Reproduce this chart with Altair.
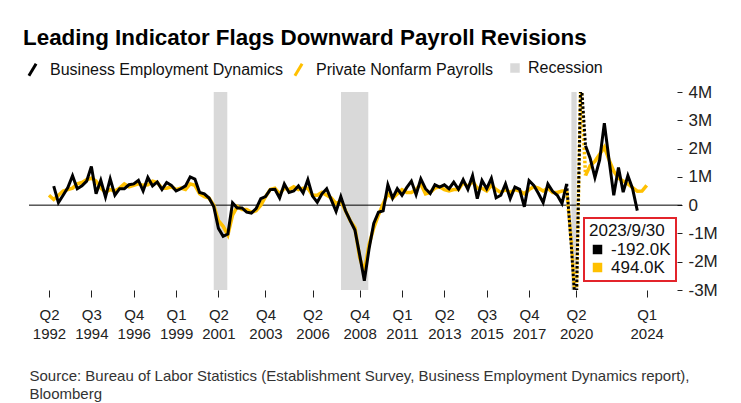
import altair as alt
import pandas as pd

FONT = "Liberation Sans"
TITLE = "Leading Indicator Flags Downward Payroll Revisions"
SOURCE = ["Source: Bureau of Labor Statistics (Establishment Survey, Business Employment Dynamics report),",
          "Bloomberg"]

BED_NAME = "Business Employment Dynamics"
PNP_NAME = "Private Nonfarm Payrolls"
REC_NAME = "Recession"
BED_COLOR = "#000000"
PNP_COLOR = "#ffc000"
REC_COLOR = "#d9d9d9"
BOX_COLOR = "#e3242b"

# quarterly net change, millions
BED_START = (1992, 3)
bed = [
    0.67, 0.09, 0.35, 0.62, 1.04, 0.58, 0.68, 0.85, 1.37, 0.40,
    0.88, 0.29, 0.93, 0.35, 0.58, 0.58, 0.72, 0.75, 0.88, 0.50,
    0.98, 0.68, 0.82, 0.55, 0.80, 0.70, 0.50, 0.58, 0.68, 1.00,
    0.92, 0.45, 0.40, 0.25, -0.05, -0.82, -1.10, -1.02, 0.08, -0.10,
    -0.10, -0.25, -0.28, -0.12, 0.23, 0.30, 0.55, 0.56, 0.25, 0.75,
    0.45, 0.50, 0.68, 0.43, 0.90, 0.32, 0.10, 0.40, 0.58, 0.18,
    -0.22, 0.30, -0.20, -0.55, -0.88, -1.75, -2.67, -1.55, -0.65, -0.25,
    -0.20, 0.72, 0.25, 0.58, 0.35, 0.62, 0.85, 0.37, 0.93, 0.58,
    0.41, 0.72, 0.64, 0.72, 0.58, 0.81, 0.56, 0.90, 0.56, 1.04,
    0.23, 0.87, 0.58, 0.95, 0.26, 0.35, 0.75, 0.23, 0.64, 0.56,
    -0.06, 0.87, 0.70, 0.41, 0.09, 0.75, 0.49, 0.35, 0.06, 0.75,
    -1.50, -4.00, 4.60, 2.10, 1.65, 0.98, 1.60, 2.90, 1.60, 0.35,
    1.33, 0.46, 1.04, 0.58, -0.192,
]
PNP_START = (1992, 2)
pnp = [
    0.35, 0.20, 0.35, 0.50, 0.55, 0.60, 0.75, 0.80, 0.90, 0.95,
    0.85, 0.60, 0.45, 0.55, 0.50, 0.60, 0.75, 0.65, 0.70, 0.75,
    0.70, 0.72, 0.85, 0.80, 0.60, 0.60, 0.65, 0.55, 0.60, 0.55,
    0.75, 0.70, 0.40, 0.30, 0.25, 0.00, -0.55, -0.75, -1.05, -0.35,
    -0.05, -0.15, -0.15, -0.25, -0.20, 0.00, 0.30, 0.55, 0.60, 0.40,
    0.60, 0.55, 0.65, 0.55, 0.60, 0.60, 0.35, 0.35, 0.45, 0.35,
    0.25, 0.05, 0.15, -0.20, -0.55, -0.80, -1.85, -2.35, -1.40, -0.80,
    -0.35, 0.05, 0.40, 0.25, 0.40, 0.55, 0.45, 0.45, 0.55, 0.75,
    0.40, 0.45, 0.60, 0.65, 0.55, 0.50, 0.55, 0.55, 0.80, 0.65,
    0.85, 0.60, 0.60, 0.50, 0.70, 0.55, 0.45, 0.55, 0.45, 0.55,
    0.50, 0.40, 0.55, 0.65, 0.60, 0.50, 0.60, 0.45, 0.45, 0.50,
    0.50, -1.30, -3.90, 4.50, 1.05, 1.40, 1.55, 1.80, 2.05, 1.60,
    1.20, 0.95, 0.85, 0.75, 0.62, 0.494, 0.50, 0.70,
]

# recessions (fractional years)
rec_start = [2001.0, 2007.76, 2020.0]
rec_end = [2001.72, 2009.21, 2020.28]

# off-scale period drawn dotted (first and last quarter included)
DOT_FROM = (2019, 4)
DOT_TO = (2020, 4)

tick_labels = ["Q2 1992", "Q3 1994", "Q4 1996", "Q1 1999", "Q2 2001", "Q4 2003", "Q2 2006",
               "Q4 2008", "Q1 2011", "Q2 2013", "Q3 2015", "Q4 2017", "Q2 2020", "Q1 2024"]
y_ticks = [-3, -2, -1, 0, 1, 2, 3, 4]
X_DOMAIN = [1991.187, 2025.875]


def qidx(y, q):
    return y * 4 + (q - 1)


def build(values, start, name):
    rows = []
    s = qidx(*start)
    a, b = qidx(*DOT_FROM), qidx(*DOT_TO)
    for i, v in enumerate(values):
        k = s + i
        t = k / 4.0
        if k <= a:
            rows.append(dict(t=t, v=v, series=name, style="solid", seg=0))
        if k >= b:
            rows.append(dict(t=t, v=v, series=name, style="solid", seg=1))
        if a <= k <= b:
            rows.append(dict(t=t, v=v, series=name, style="dot", seg=2))
    return rows


df = pd.DataFrame(build(bed, BED_START, BED_NAME) + build(pnp, PNP_START, PNP_NAME))
df_rec = pd.DataFrame({"start": rec_start, "end": rec_end, "series": [REC_NAME] * len(rec_start)})
df_zero = pd.DataFrame({"v": [0]})

# red box: last BED quarter
last_k = qidx(*BED_START) + len(bed) - 1
last_year, last_q = last_k // 4, last_k % 4 + 1
end_month = last_q * 3
end_day = 30 if end_month in (6, 9) else 31
box_title = f"{last_year}/{end_month}/{end_day}"
pnp_at = pnp[last_k - qidx(*PNP_START)]
box_labels = [f"{bed[-1] * 1000:.1f}K", f"{pnp_at * 1000:.1f}K"]
df_box = pd.DataFrame({"t": [last_k / 4.0] * 2, "v": [bed[-1], pnp_at], "label": box_labels})

tick_vals = []
for lab in tick_labels:
    q, y = lab.split()
    tick_vals.append(qidx(int(y), int(q[1])) / 4.0)

x_axis = alt.Axis(
    values=tick_vals,
    labelExpr="['Q' + (round((datum.value - floor(datum.value)) * 4) + 1), '' + floor(datum.value)]",
    labelFontSize=15, labelFont=FONT, labelColor="#222", labelLineHeight=19,
    labelPadding=10, tickSize=7, tickColor="#222", tickWidth=1,
    domain=False, grid=False, labelAngle=0, labelOverlap=False, labelFlush=False,
    title=SOURCE, titleFont=FONT, titleFontSize=15, titleFontWeight="normal", titleColor="#333",
    titleAnchor="start", titleAlign="left", titleBaseline="top", titleX=0, titleY=78,
    titleLineHeight=18,
)
y_axis = alt.Axis(
    orient="right", values=y_ticks, offset=-5,
    labelExpr="datum.value == 0 ? '0' : datum.value + 'M'",
    tickSize=5, tickColor="#222", labelPadding=6, domain=False, grid=False,
    labelOverlap=False, labelFlush=False,
    labelFontSize=17, labelFont=FONT, labelColor="#222", title=None,
)
x_scale = alt.Scale(domain=X_DOMAIN, nice=False, zero=False)
y_scale = alt.Scale(domain=[-3, 4], nice=False, zero=False)

slash = "M-0.45,0.75L0.45,-0.75"
line_legend = alt.Legend(
    orient="none", legendX=-6, legendY=-32, direction="horizontal", title=None,
    labelFontSize=16, labelFont=FONT, labelColor="#111", labelLimit=400,
    symbolType=slash, symbolSize=256, symbolStrokeWidth=3, symbolFillColor="transparent",
    symbolOpacity=1, labelOffset=8, columnPadding=5, padding=0,
)
stroke = alt.Stroke(
    "series:N",
    scale=alt.Scale(domain=[BED_NAME, PNP_NAME], range=[BED_COLOR, PNP_COLOR]),
    legend=line_legend,
)
rec_legend = alt.Legend(
    orient="none", legendX=478, legendY=-32, title=None,
    labelFontSize=16, labelFont=FONT, labelColor="#111", labelLimit=400,
    symbolType="square", symbolSize=90, symbolStrokeWidth=0, symbolOpacity=1,
    labelOffset=5, padding=0,
)

X = alt.X("t:Q", scale=x_scale, axis=x_axis)
Y = alt.Y("v:Q", scale=y_scale, axis=y_axis)

rec = alt.Chart(df_rec).mark_rect().encode(
    x=alt.X("start:Q", scale=x_scale, axis=x_axis), x2="end:Q",
    fill=alt.Fill("series:N", scale=alt.Scale(domain=[REC_NAME], range=[REC_COLOR]), legend=rec_legend),
)
zero = alt.Chart(df_zero).mark_rule(color="#000", strokeWidth=1).encode(y=Y)


def line_layer(name, style, width):
    kw = dict(strokeWidth=width, clip=True, strokeJoin="miter", strokeMiterLimit=4)
    if style == "dot":
        kw.update(strokeDash=[2.5, 2], strokeJoin="round")
    return alt.Chart(df).transform_filter(
        f"datum.series === '{name}' && datum.style === '{style}'"
    ).mark_line(**kw).encode(x=X, y=Y, stroke=stroke, detail="seg:N", order="t:Q")


box_legend = alt.Legend(
    orient="none", legendX=555, legendY=126, title=box_title,
    titleFont=FONT, titleFontSize=17, titleFontWeight="normal", titleColor="#111", titlePadding=1,
    labelFont=FONT, labelFontSize=17, labelColor="#111", labelOffset=5,
    symbolType="square", symbolSize=90, symbolStrokeWidth=0, symbolOpacity=1,
    strokeColor=BOX_COLOR, fillColor="white", padding=5, rowPadding=0,
)
box = alt.Chart(df_box).mark_point(filled=True, opacity=0).encode(
    x=X, y=Y,
    color=alt.Color("label:N", scale=alt.Scale(domain=box_labels, range=[BED_COLOR, PNP_COLOR]),
                    legend=box_legend),
)

chart = alt.layer(
    rec, zero,
    line_layer(PNP_NAME, "solid", 3.5), line_layer(PNP_NAME, "dot", 3.5),
    line_layer(BED_NAME, "solid", 3), line_layer(BED_NAME, "dot", 3),
    box,
).properties(
    width=653, height=198,
    title=alt.TitleParams(TITLE, anchor="start", font=FONT, fontSize=22.4, fontWeight="bold",
                          color="#000", offset=11),
    padding={"left": 21, "top": 84, "right": 51, "bottom": 113},
    autosize=alt.AutoSizeParams(type="none"),
).configure(
    font=FONT,
    view=alt.ViewConfig(stroke=None),
    legend=alt.LegendConfig(strokeWidth=2),
)

chart.save("out.html", embed_options={"renderer": "svg", "actions": False})
